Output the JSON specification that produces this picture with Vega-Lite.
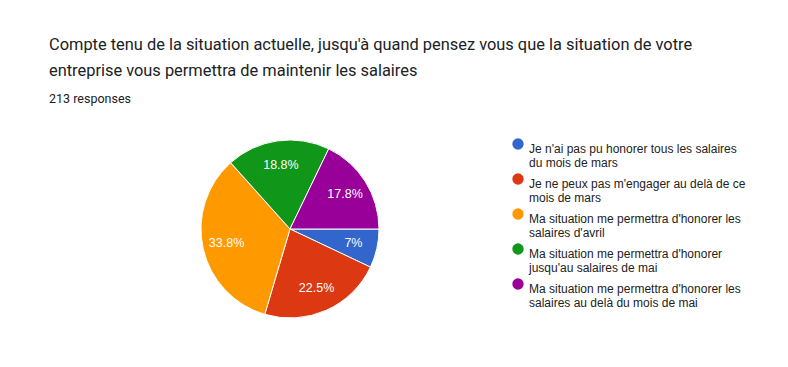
{
  "$schema": "https://vega.github.io/schema/vega-lite/v6.json",
  "width": 580,
  "height": 238,
  "autosize": {"type": "none"},
  "padding": {"left": 0, "top": 110, "right": 208, "bottom": 19},
  "background": "white",
  "title": {
    "text": ["Compte tenu de la situation actuelle, jusqu'à quand pensez vous que la situation de votre", "entreprise vous permettra de maintenir les salaires"],
    "subtitle": "213 responses",
    "anchor": "start",
    "frame": "group",
    "dx": 49,
    "offset": 5,
    "font": "Roboto",
    "fontSize": 16.4,
    "fontWeight": "normal",
    "color": "#202124",
    "lineHeight": 26,
    "subtitleFont": "Roboto",
    "subtitleFontSize": 12.5,
    "subtitleColor": "#202124",
    "subtitlePadding": 13
  },
  "data": {
    "values": [
      {"idx": 1, "label": "Je n'ai pas pu honorer tous les salaires\ndu mois de mars", "count": 15, "pct": "7%"},
      {"idx": 2, "label": "Je ne peux pas m'engager au delà de ce\nmois de mars", "count": 48, "pct": "22.5%"},
      {"idx": 3, "label": "Ma situation me permettra d'honorer les\nsalaires d'avril", "count": 72, "pct": "33.8%"},
      {"idx": 4, "label": "Ma situation me permettra d'honorer\njusqu'au salaires de mai", "count": 40, "pct": "18.8%"},
      {"idx": 5, "label": "Ma situation me permettra d'honorer les\nsalaires au delà du mois de mai", "count": 38, "pct": "17.8%"}
    ]
  },
  "encoding": {
    "theta": {"field": "count", "type": "quantitative", "stack": true, "scale": {"range": [1.5708, 7.854]}},
    "order": {"field": "idx", "type": "quantitative"}
  },
  "layer": [
    {
      "mark": {"type": "arc", "outerRadius": 89, "stroke": "white", "strokeWidth": 1},
      "encoding": {
        "color": {
          "field": "label",
          "type": "nominal",
          "scale": {
            "domain": [
              "Je n'ai pas pu honorer tous les salaires\ndu mois de mars",
              "Je ne peux pas m'engager au delà de ce\nmois de mars",
              "Ma situation me permettra d'honorer les\nsalaires d'avril",
              "Ma situation me permettra d'honorer\njusqu'au salaires de mai",
              "Ma situation me permettra d'honorer les\nsalaires au delà du mois de mai"
            ],
            "range": ["#3366cc", "#dc3912", "#ff9900", "#109618", "#990099"]
          },
          "legend": {
            "title": null,
            "orient": "none",
            "legendX": 512,
            "legendY": 28,
            "padding": 0,
            "labelExpr": "split(datum.label, '\\n')",
            "labelFont": "Liberation Sans",
            "labelFontSize": 12,
            "labelColor": "#222222",
            "labelLimit": 300,
            "labelOffset": 5,
            "labelBaseline": "top",
            "symbolType": "circle",
            "symbolSize": 130,
            "symbolStrokeWidth": 0,
            "symbolOpacity": 1,
            "rowPadding": 4
          }
        }
      }
    },
    {
      "mark": {"type": "text", "radius": 65, "font": "Liberation Sans", "fontSize": 12.5, "color": "white"},
      "encoding": {"text": {"field": "pct"}, "detail": {"field": "label"}}
    }
  ],
  "config": {"view": {"stroke": null}}
}
